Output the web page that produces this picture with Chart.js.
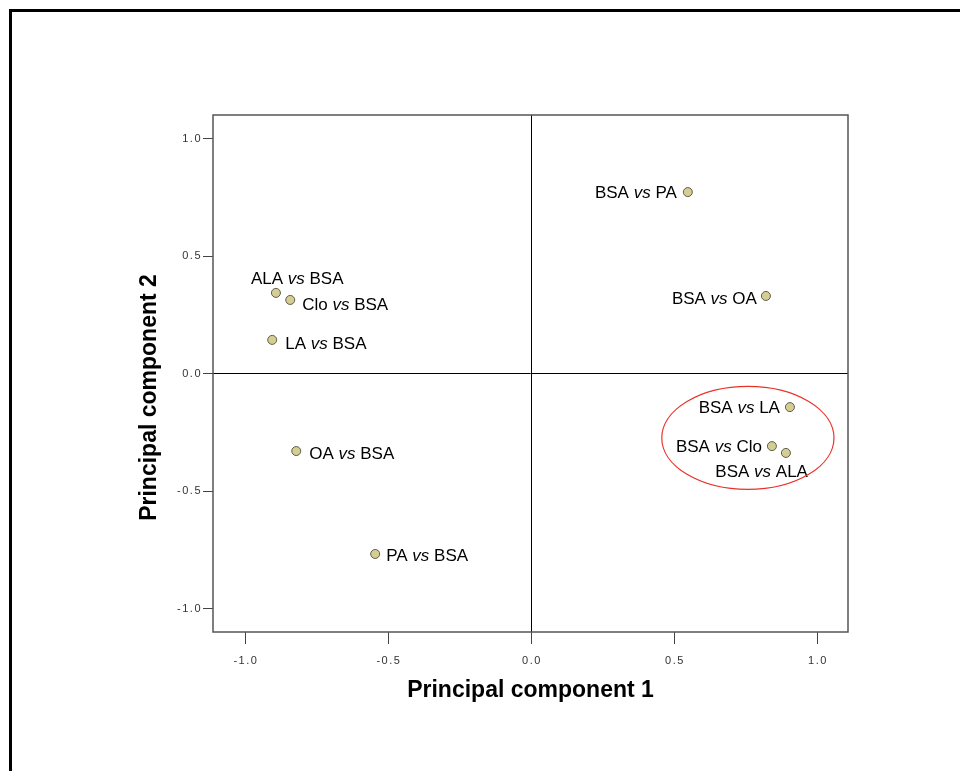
<!DOCTYPE html>
<html>
<head>
<meta charset="utf-8">
<script src="https://cdn.jsdelivr.net/npm/chart.js@4.4.0/dist/chart.umd.min.js"></script>
<style>
  body { margin: 0; background: #fff; }
  canvas { display: block; }
</style>
</head>
<body>
<canvas id="pca-chart" width="960" height="771"></canvas>
<script>
// data
var pointNames = ['BSA vs PA', 'BSA vs OA', 'BSA vs LA', 'BSA vs Clo', 'BSA vs ALA',
                  'ALA vs BSA', 'Clo vs BSA', 'LA vs BSA', 'OA vs BSA', 'PA vs BSA'];
var pc1 = [0.545, 0.818, 0.902, 0.839, 0.888, -0.895, -0.845, -0.908, -0.824, -0.548];
var pc2 = [0.772, 0.330, -0.143, -0.309, -0.338, 0.343, 0.313, 0.143, -0.330, -0.768];
var tickValues = [-1.0, -0.5, 0.0, 0.5, 1.0];
var axisTitles = ['Principal component 1', 'Principal component 2'];

// red ring round the BSA vs ... group, in data units
var ringCenter = [0.755, -0.274];
var ringRadius = [0.301, 0.219];

// where each label sits next to its point: [dx, dy, align]
var labelOffsets = [
  [-11, 1, 'right'], [-9, 3, 'right'], [-10, 1, 'right'], [-10, 1, 'right'], [22, 19, 'right'],
  [-25, -14, 'left'], [12, 5, 'left'], [13, 4, 'left'], [13, 3, 'left'], [11, 2, 'left']
];

var points = [];
for (var i = 0; i < pc1.length; i++) {
  points.push({x: pc1[i], y: pc2[i]});
}

var fontFamily = 'Arial, "Liberation Sans", sans-serif';
var labelFont = '17px ' + fontFamily;
var italicFont = 'italic 17px ' + fontFamily;

var decorPlugin = {
  id: 'decor',
  afterLayout: function(chart) {
    // spaced-out tick numbers like the original
    ['x', 'y'].forEach(function(id) {
      var s = chart.scales[id];
      if (s._spaced) return;
      var orig = s.drawLabels;
      s.drawLabels = function(area) {
        this.ctx.save();
        this.ctx.letterSpacing = '1.5px';
        orig.call(this, area);
        this.ctx.restore();
      };
      s._spaced = true;
    });
  },
  beforeDraw: function(chart) {
    var ctx = chart.ctx;
    ctx.save();
    ctx.strokeStyle = '#000';
    ctx.lineWidth = 3;
    ctx.beginPath();
    ctx.moveTo(10.5, 771);
    ctx.lineTo(10.5, 10.5);
    ctx.lineTo(960, 10.5);
    ctx.stroke();
    ctx.restore();
  },
  beforeDatasetsDraw: function(chart) {
    var ctx = chart.ctx;
    var a = chart.chartArea;
    ctx.save();
    ctx.strokeStyle = '#555';
    ctx.lineWidth = 1.5;
    ctx.strokeRect(a.left, a.top, a.right - a.left, a.bottom - a.top);
    // y axis title sits a bit below the middle in the original
    ctx.translate(150, a.top + (a.bottom - a.top) / 2 + 24);
    ctx.rotate(-Math.PI / 2);
    ctx.font = 'bold 23px ' + fontFamily;
    ctx.fillStyle = '#000';
    ctx.textAlign = 'center';
    ctx.textBaseline = 'middle';
    ctx.fillText(axisTitles[1], 0, 0);
    ctx.restore();
  },
  afterDatasetsDraw: function(chart) {
    var ctx = chart.ctx;
    var xs = chart.scales.x, ys = chart.scales.y;
    var meta = chart.getDatasetMeta(0);
    ctx.save();
    ctx.fillStyle = '#000';
    ctx.textBaseline = 'middle';
    ctx.textAlign = 'left';
    for (var i = 0; i < pointNames.length; i++) {
      var el = meta.data[i];
      var parts = pointNames[i].split(' vs ');
      var off = labelOffsets[i];
      ctx.font = labelFont;
      var w1 = ctx.measureText(parts[0] + ' ').width;
      var w3 = ctx.measureText(' ' + parts[1]).width;
      ctx.font = italicFont;
      var w2 = ctx.measureText('vs').width;
      var total = w1 + w2 + w3;
      var x = el.x + off[0];
      if (off[2] == 'right') x = x - total;
      var y = el.y + off[1];
      ctx.font = labelFont;
      ctx.fillText(parts[0] + ' ', x, y);
      ctx.font = italicFont;
      ctx.fillText('vs', x + w1, y);
      ctx.font = labelFont;
      ctx.fillText(' ' + parts[1], x + w1 + w2, y);
    }
    // ring
    var cx = xs.getPixelForValue(ringCenter[0]);
    var cy = ys.getPixelForValue(ringCenter[1]);
    var rx = xs.getPixelForValue(ringCenter[0] + ringRadius[0]) - cx;
    var ry = cy - ys.getPixelForValue(ringCenter[1] + ringRadius[1]);
    ctx.strokeStyle = '#e8322a';
    ctx.lineWidth = 1.2;
    ctx.beginPath();
    ctx.ellipse(cx, cy, rx, ry, 0, 0, Math.PI * 2);
    ctx.stroke();
    ctx.restore();
  }
};

function fixTicks(scale) {
  scale.ticks = tickValues.map(function(v) { return {value: v}; });
}

function zeroLine(c) {
  return c.tick && c.tick.value === 0 ? '#000' : 'rgba(0,0,0,0)';
}

var ctx = document.getElementById('pca-chart').getContext('2d');
var chart = new Chart(ctx, {
  type: 'scatter',
  data: {
    datasets: [{
      data: points,
      pointRadius: 4.5,
      pointHoverRadius: 4.5,
      pointBackgroundColor: '#d4cd94',
      pointBorderColor: '#5e5c48',
      pointBorderWidth: 1
    }]
  },
  options: {
    responsive: false,
    animation: false,
    events: [],
    layout: { padding: { left: 0, top: 115, right: 112, bottom: 0 } },
    plugins: { legend: { display: false }, tooltip: { enabled: false } },
    scales: {
      x: {
        type: 'linear',
        min: -1.115,
        max: 1.105,
        afterBuildTicks: fixTicks,
        afterFit: function(s) { s.height = 139; },
        border: { display: false },
        grid: { color: zeroLine, tickColor: '#444', tickLength: 12, lineWidth: 1 },
        ticks: {
          color: '#333',
          padding: 10,
          maxRotation: 0,
          font: { family: fontFamily, size: 11 },
          callback: function(v) { return Number(v).toFixed(1); }
        },
        title: {
          display: true,
          text: axisTitles[0],
          color: '#000',
          font: { family: fontFamily, size: 23, weight: 'bold' },
          padding: { top: 0, bottom: 67 }
        }
      },
      y: {
        type: 'linear',
        min: -1.1,
        max: 1.1,
        afterBuildTicks: fixTicks,
        afterFit: function(s) { s.width = 213; },
        border: { display: false },
        grid: { color: zeroLine, tickColor: '#444', tickLength: 10, lineWidth: 1 },
        ticks: {
          color: '#333',
          padding: 1,
          font: { family: fontFamily, size: 11 },
          callback: function(v) { return Number(v).toFixed(1); }
        },
        title: { display: false }
      }
    }
  },
  plugins: [decorPlugin]
});
</script>
</body>
</html>
